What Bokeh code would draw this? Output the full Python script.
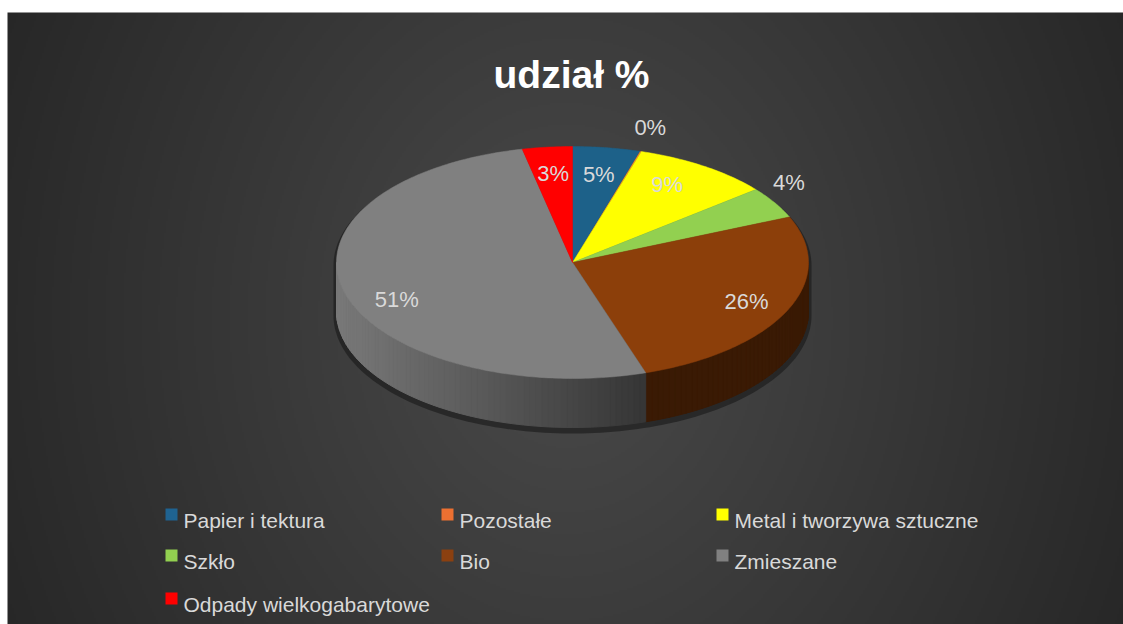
import numpy as np
from bokeh.plotting import figure
from bokeh.models import Range1d
from bokeh.embed import file_html
from bokeh.resources import INLINE
from bokeh.core.properties import value

# ---------------- data ----------------
title_text = "udział %"
categories = ["Papier i tektura", "Pozostałe", "Metal i tworzywa sztuczne",
              "Szkło", "Bio", "Zmieszane", "Odpady wielkogabarytowe"]
shares = [4.6, 0.1, 9.4, 4.4, 26.3, 51.4, 3.4]
pct_labels = ["5%", "0%", "9%", "4%", "26%", "51%", "3%"]
colors = ["#1d6189", "#ed7d31", "#ffff00", "#92d050", "#8c3f0a", "#808080", "#ff0000"]
legend_colors = ["#1f6391", "#ed7031", "#ffff00", "#92d050", "#8b4010", "#808080", "#ff0000"]

# ---------------- style ----------------
label_r = [0.77, 1.21, 0.78, 1.15, 0.81, 0.81, 0.77]
label_da = [0, -1, -3, -6, 0, -8, 0]
W, H = 1123, 624
FONT = "Liberation Sans"


def Y(py):
    return H - py


p = figure(width=W, height=H, x_range=Range1d(0, W), y_range=Range1d(0, H),
           output_backend="svg", toolbar_location=None, min_border=0)
p.axis.visible = False
p.grid.visible = False
p.outline_line_color = None
p.background_fill_color = "white"
p.border_fill_color = "white"

# ---------------- background radial gradient ----------------
gw, gh = 558, 306
gx = np.linspace(7, W, gw)
gy = np.linspace(H, 12, gh)  # row 0 at the bottom
GX, GY = np.meshgrid(gx, gy)
d = np.sqrt(((GX - 566) / 640.0) ** 2 + ((GY - 318) / 780.0) ** 2)
d = np.clip(d, 0, 1)
v = (74 - (74 - 38) * d).astype(np.uint8)
img = np.empty((gh, gw), dtype=np.uint32)
view = img.view(dtype=np.uint8).reshape((gh, gw, 4))
view[..., 0] = v
view[..., 1] = v
view[..., 2] = v
view[..., 3] = 255
p.image_rgba(image=[img], x=7, y=0, dw=W - 7, dh=H - 12)

# ---------------- pie geometry ----------------
cx, CY = 572.0, Y(262)
rx, ry = 236.0, 116.0
depth = 49.0

fr = np.array(shares, dtype=float) / sum(shares)
bounds = np.concatenate([[0.0], np.cumsum(fr) * 360.0])


def ex(th):
    return cx + rx * np.sin(np.radians(th))


def ey(th, dy=0.0):
    return CY + ry * np.cos(np.radians(th)) - dy


# shadow silhouette
th_back = np.linspace(-90, 90, 120)
th_front = np.linspace(90, 270, 120)
sx = list(cx + (rx + 3) * np.sin(np.radians(th_back))) + list(cx + (rx + 3) * np.sin(np.radians(th_front)))
sy = list(CY + (ry + 2) * np.cos(np.radians(th_back)) - 3) + list(CY + (ry + 2) * np.cos(np.radians(th_front)) - depth - 4)
p.patch(sx, sy, fill_color="#141414", fill_alpha=0.55, line_color=None)


def hex2rgb(h):
    h = h.lstrip("#")
    return [int(h[i:i + 2], 16) for i in (0, 2, 4)]


# side walls
side_xs, side_ys, side_cols = [], [], []
for i in range(len(shares)):
    a0, a1 = bounds[i], bounds[i + 1]
    s0, s1 = max(a0, 90.0), min(a1, 270.0)
    if s1 <= s0:
        continue
    n = max(2, int((s1 - s0) / 1.5) + 1)
    th = np.linspace(s0, s1, n)
    base = hex2rgb(colors[i])
    for j in range(n - 1):
        t0, t1 = th[j], th[j + 1]
        xs = [ex(t0), ex(t1), ex(t1), ex(t0)]
        ys = [ey(t0), ey(t1), ey(t1, depth), ey(t0, depth)]
        xm = 0.5 * (xs[0] + xs[1])
        f = 0.42 + 0.53 * np.clip((646 - xm) / 310.0, 0, 1)
        c = "#%02x%02x%02x" % tuple(int(min(255, b * f)) for b in base)
        side_xs.append(xs)
        side_ys.append(ys)
        side_cols.append(c)
p.patches(side_xs, side_ys, fill_color=side_cols, line_color=side_cols, line_width=1)

# top faces
top_xs, top_ys = [], []
for i in range(len(shares)):
    a0, a1 = bounds[i], bounds[i + 1]
    n = max(2, int((a1 - a0) / 1.0) + 2)
    th = np.linspace(a0, a1, n)
    top_xs.append([cx] + list(ex(th)))
    top_ys.append([CY] + list(ey(th)))
line_w = [0.5 if s >= 1 else 0 for s in shares]
p.patches(top_xs, top_ys, fill_color=colors, line_color=colors, line_width=line_w)

# data labels
mids = 0.5 * (bounds[:-1] + bounds[1:]) + np.array(label_da)
lx = cx + np.array(label_r) * rx * np.sin(np.radians(mids))
ly = CY + np.array(label_r) * ry * np.cos(np.radians(mids))
p.text(x=list(lx), y=list(ly), text=pct_labels, text_font=value(FONT),
       text_font_size="22px", text_color="#d9d9d9", text_align="center",
       text_baseline="middle")

# title
p.text(x=[571], y=[Y(74)], text=[title_text], text_font=value(FONT),
       text_font_size="39px", text_font_style="bold", text_color="#ffffff",
       text_align="center", text_baseline="alphabetic")

# legend
col_x = [165, 441, 716]
row_base = [520, 561, 604]
lg_x, lg_y, lt_x, lt_y = [], [], [], []
for i, name in enumerate(categories):
    r, c = divmod(i, 3)
    lg_x.append(col_x[c] + 6)
    lg_y.append(Y(row_base[r] - 6))
    lt_x.append(col_x[c] + 18)
    lt_y.append(Y(row_base[r]))
p.rect(x=lg_x, y=lg_y, width=12, height=12, fill_color=legend_colors, line_color=None)
p.text(x=lt_x, y=lt_y, text=categories, text_font=value(FONT), text_font_size="21px",
       text_color="#d9d9d9", text_align="left", text_baseline="alphabetic")

open("out.html", "w").write(file_html(p, INLINE))
